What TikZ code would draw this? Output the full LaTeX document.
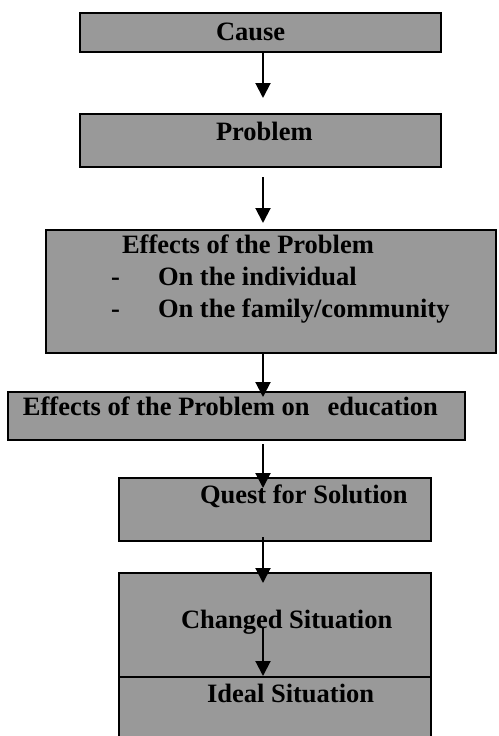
\documentclass[tikz,border=0pt]{standalone}
\usepackage{fontspec}
\setmainfont{Liberation Serif}
\usetikzlibrary{arrows.meta}
\definecolor{boxgray}{HTML}{999999}
\tikzset{
  box/.style={draw=black, line width=2pt, fill=boxgray, inner sep=0pt, outer sep=0pt},
  lbl/.style={anchor=base west, inner sep=0pt, outer sep=0pt, font=\fontsize{26.5}{31}\selectfont\bfseries},
  arr/.style={line width=2pt, -{Triangle[length=15pt,width=15pt]}}
}
\begin{document}
\begin{tikzpicture}[x=1pt,y=-1pt]
\useasboundingbox (0,0) rectangle (498,736);
% boxes
\node[box, minimum width=361pt, minimum height=39pt] (cause) at (260.5,32.5) {};
\node[box, minimum width=361pt, minimum height=53pt] (problem) at (260.5,140.5) {};
\node[box, minimum width=450pt, minimum height=123pt] (effects) at (271,291.5) {};
\node[box, minimum width=457pt, minimum height=48pt] (edu) at (236.5,416) {};
\node[box, minimum width=312pt, minimum height=63pt] (quest) at (275,509.5) {};
\node[box, minimum width=312pt, minimum height=104pt] (changed) at (275,625) {};
\node[box, minimum width=312pt, minimum height=70pt] (ideal) at (275,712) {};
% texts
\node[lbl] (tcause) at (216,40) {Cause};
\node[lbl] (tproblem) at (216,140) {Problem};
\node[lbl] (teff) at (122,253) {Effects of the Problem};
\node[lbl] (d1) at (111,285) {-};
\node[lbl] (tind) at (158,285) {On the individual};
\node[lbl] (d2) at (111,317) {-};
\node[lbl] (tfam) at (158,317) {On the family/community};
\node[lbl] (tedu) at (23,415) {Effects of the Problem on\hspace{18pt}education};
\node[lbl] (tquest) at (200,503) {Quest for Solution};
\node[lbl] (tchanged) at (181,628) {Changed Situation};
\node[lbl] (tideal) at (207,702) {Ideal Situation};
% arrows
\coordinate (ax) at (263,0);
\draw[arr, shorten >=16pt] (cause.south -| ax) -- (problem.north -| ax);
\draw[arr, shorten <=10pt, shorten >=7pt] (problem.south -| ax) -- (effects.north -| ax);
\draw[arr, shorten >=-5pt] (effects.south -| ax) -- (edu.north -| ax);
\draw[arr, shorten <=4pt, shorten >=-10pt] (edu.south -| ax) -- (quest.north -| ax);
\draw[arr, shorten <=-4pt, shorten >=-10pt] (quest.south -| ax) -- (changed.north -| ax);
\draw[arr, shorten <=3pt, shorten >=1pt] (changed.center -| ax) -- (ideal.north -| ax);
\end{tikzpicture}
\end{document}
